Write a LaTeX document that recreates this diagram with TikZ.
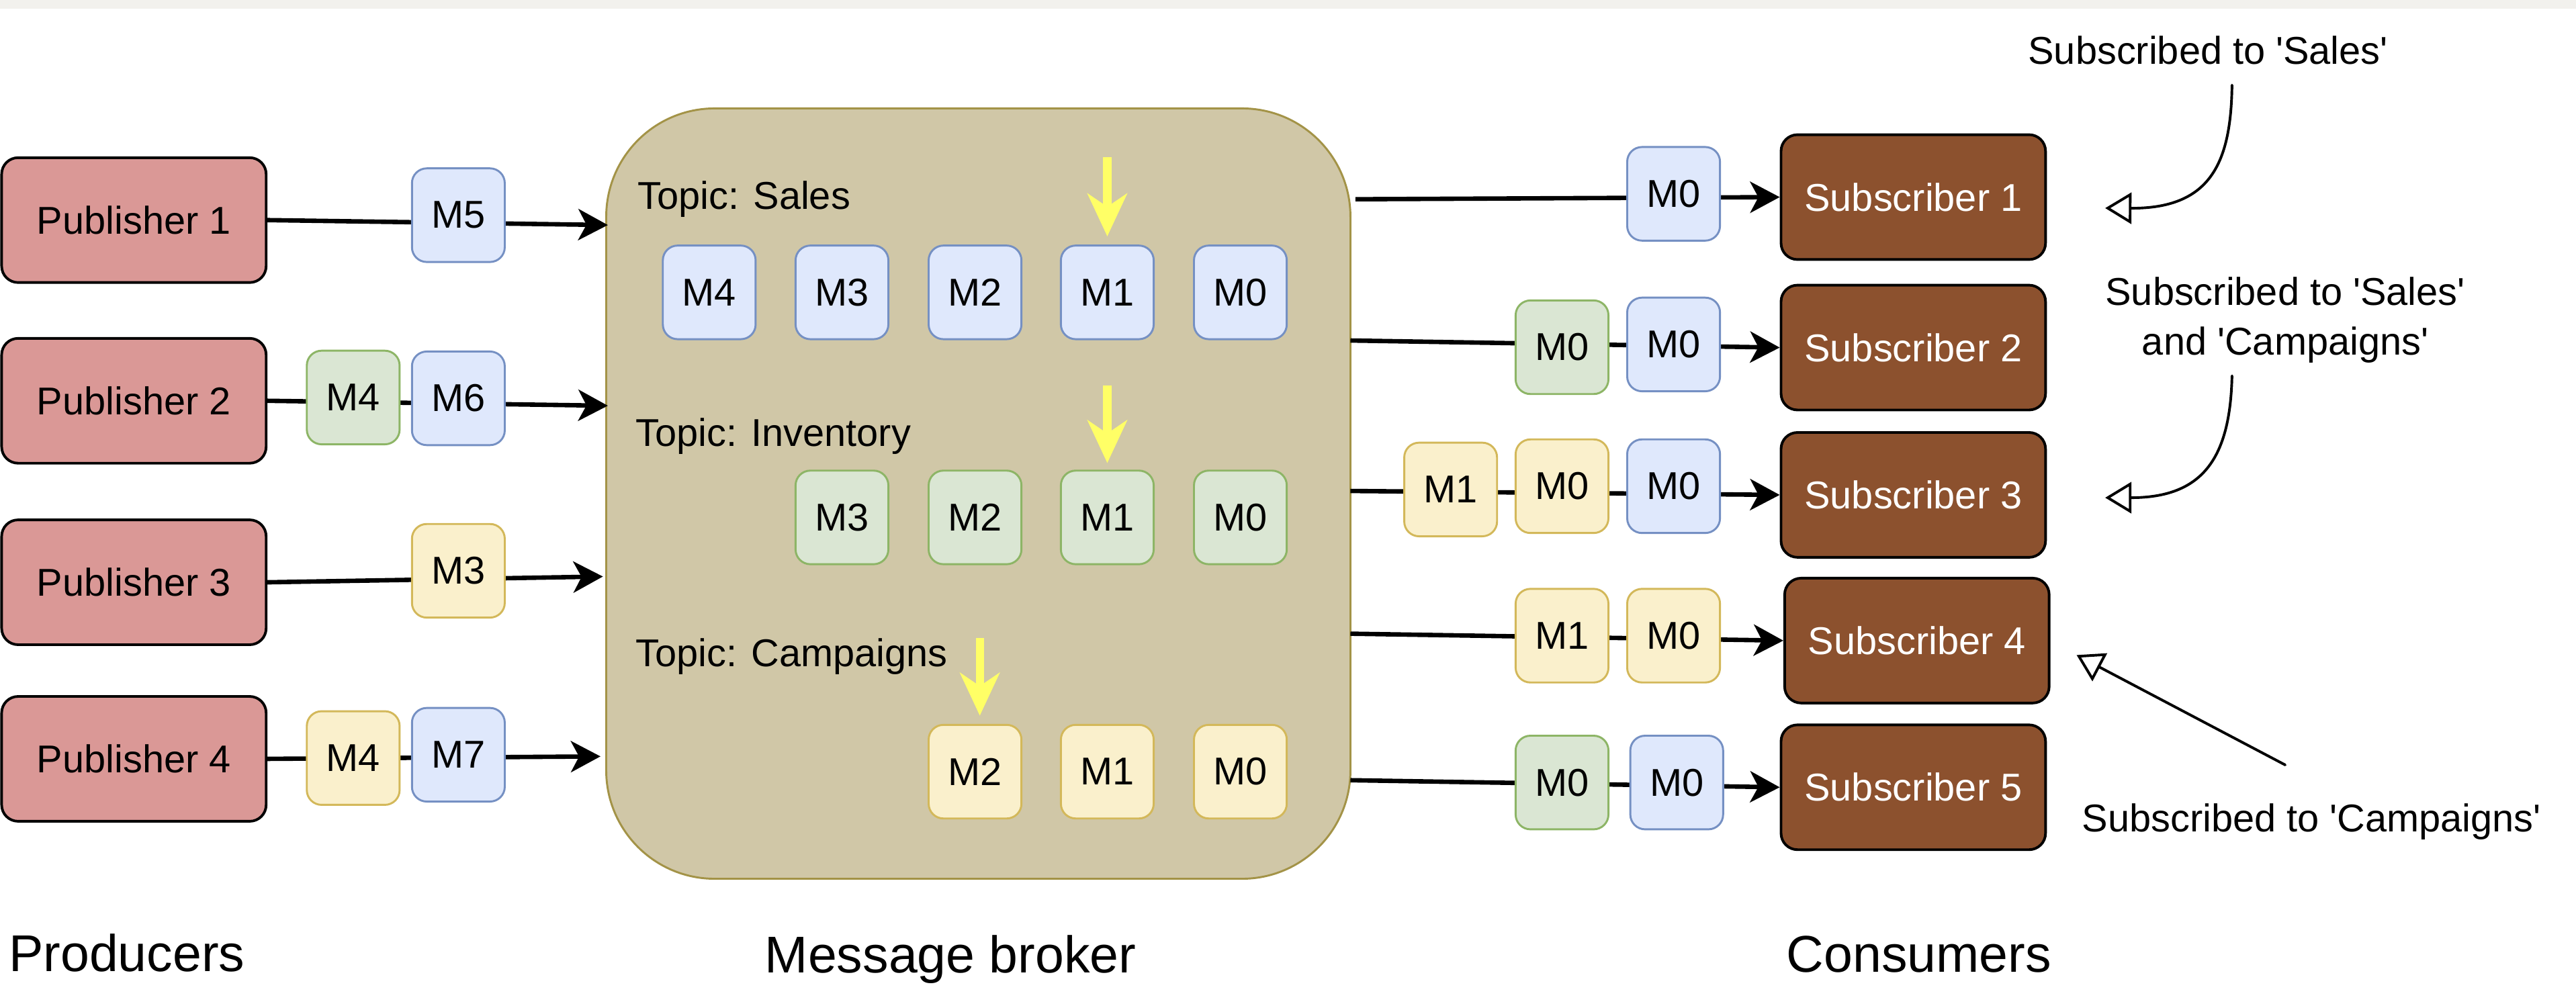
\documentclass[tikz,border=0pt]{standalone}
\usepackage{fontspec}
\newfontfamily\lsans{Liberation Sans}
\usetikzlibrary{arrows.meta}
\definecolor{pubfill}{HTML}{DA9896}
\definecolor{subfill}{HTML}{8C512E}
\definecolor{bfill}{HTML}{DFE8FC}
\definecolor{bstroke}{HTML}{7590C3}
\definecolor{gfill}{HTML}{DAE6D3}
\definecolor{gstroke}{HTML}{8DB566}
\definecolor{yfill}{HTML}{FAF0CC}
\definecolor{ystroke}{HTML}{D3B85A}
\definecolor{brokerfill}{HTML}{D0C7A7}
\definecolor{brokerstroke}{HTML}{A39347}
\definecolor{arrowyellow}{HTML}{FFFF66}
\definecolor{topband}{HTML}{F2F1ED}
\newcommand\mytxt{\lsans\fontsize{23.6pt}{28pt}\selectfont}
\newcommand\bigtxt{\lsans\fontsize{31.5pt}{36pt}\selectfont}
\begin{document}
\begin{tikzpicture}[x=1pt,y=-1pt,
  every node/.style={font=\mytxt, inner sep=0pt},
  pub/.style={draw=black, line width=1.6pt, fill=pubfill, rounded corners=10pt, minimum width=161pt, minimum height=76pt},
  subsc/.style={draw=black, line width=1.6pt, fill=subfill, text=white, rounded corners=10pt, minimum width=161pt, minimum height=76pt},
  msg/.style={line width=1.2pt, rounded corners=9pt, minimum width=56.5pt, minimum height=57pt},
  msgb/.style={msg, draw=bstroke, fill=bfill},
  msgg/.style={msg, draw=gstroke, fill=gfill},
  msgy/.style={msg, draw=ystroke, fill=yfill},
  conn/.style={line width=2.7pt, -{Stealth[length=18pt,width=19pt,inset=5pt]}},
  yarr/.style={draw=arrowyellow, line width=5pt, -{Stealth[length=26pt,width=24pt,inset=8pt]}},
  note/.style={line width=1.6pt, line cap=round, -{Triangle[open,length=16pt,width=19pt]}},
  label/.style={font=\bigtxt}
]
\useasboundingbox (0,0) rectangle (1568,611);
\fill[topband] (0,0) rectangle (1568,5.5);

% broker
\node[draw=brokerstroke, fill=brokerfill, line width=1.2pt, rounded corners=66pt,
      minimum width=453pt, minimum height=469pt] (broker) at (595.5,300.5) {};

% publishers
\node[pub] (P1) at (81.5,134) {Publisher 1};
\node[pub] (P2) at (81.5,244) {Publisher 2};
\node[pub] (P3) at (81.5,354.5) {Publisher 3};
\node[pub] (P4) at (81.5,462) {Publisher 4};

% subscribers
\node[subsc] (S1) at (1164.6,120) {Subscriber 1};
\node[subsc] (S2) at (1164.6,211.6) {Subscriber 2};
\node[subsc] (S3) at (1164.6,301.3) {Subscriber 3};
\node[subsc] (S4) at (1166.8,390) {Subscriber 4};
\node[subsc] (S5) at (1164.6,479.3) {Subscriber 5};

% connector end points
\coordinate (b1) at (370,137);
\coordinate (b2) at (370,247);
\coordinate (b3) at (367,351);
\coordinate (b4) at (365.5,460.5);
\coordinate (r1) at (825,121.3);
\coordinate (r2) at (822,207.3);
\coordinate (r3) at (822,298.9);
\coordinate (r4) at (822,385.8);
\coordinate (r5) at (822,475);

\draw[conn] (P1.east) -- (b1);
\draw[conn] (P2.east) -- (b2);
\draw[conn] (P3.east) -- (b3);
\draw[conn] (P4.east) -- (b4);
\draw[conn] (r1) -- (S1.west);
\draw[conn] (r2) -- (S2.west);
\draw[conn] (r3) -- (S3.west);
\draw[conn] (r4) -- (S4.west);
\draw[conn] (r5) -- (S5.west);

% messages in transit (producers)
\node[msgb] (pm5) at (279,131) {M5};
\node[msgg] (pm4a) at (215,242) {M4};
\node[msgb] (pm6) at (279,242.5) {M6};
\node[msgy] (pm3) at (279,347.5) {M3};
\node[msgy] (pm4b) at (215,461.5) {M4};
\node[msgb] (pm7) at (279,459.5) {M7};

% messages in transit (consumers)
\node[msgb] (c1b) at (1018.7,118) {M0};
\node[msgg] (c2g) at (950.8,211.4) {M0};
\node[msgb] (c2b) at (1018.7,209.7) {M0};
\node[msgy] (c3y1) at (883,298) {M1};
\node[msgy] (c3y0) at (950.8,296) {M0};
\node[msgb] (c3b) at (1018.7,296) {M0};
\node[msgy] (c4y1) at (950.8,387) {M1};
\node[msgy] (c4y0) at (1018.7,387) {M0};
\node[msgg] (c5g) at (950.8,476.4) {M0};
\node[msgb] (c5b) at (1020.6,476.4) {M0};

% topics
\node[anchor=base west] (tsales) at (388,127.5) {Topic: Sales};
\node[msgb] (s4) at (431.7,178) {M4};
\node[msgb] (s3) at (512.5,178) {M3};
\node[msgb] (s2) at (593.5,178) {M2};
\node[msgb] (s1) at (674,178) {M1};
\node[msgb] (s0) at (755,178) {M0};

\node[anchor=base west] (tinv) at (386.8,271.7) {Topic: Inventory};
\node[msgg] (i3) at (512.5,315) {M3};
\node[msgg] (i2) at (593.5,315) {M2};
\node[msgg] (i1) at (674,315) {M1};
\node[msgg] (i0) at (755,315) {M0};

\node[anchor=base west] (tcamp) at (386.8,405.8) {Topic: Campaigns};
\node[msgy] (k2) at (593.5,469.8) {M2};
\node[msgy] (k1) at (674,469.8) {M1};
\node[msgy] (k0) at (755,469.8) {M0};

% offset pointers
\coordinate (ys) at (674,95.6);
\coordinate (yi) at (674,234.7);
\coordinate (yk) at (596.4,388.6);
\draw[yarr, shorten >=5pt] (ys) -- (s1.north);
\draw[yarr, shorten >=4pt] (yi) -- (i1.north);
\draw[yarr, shorten >=5pt] (yk) -- (yk |- k2.north);

% annotations
\node[anchor=base] (a1) at (1344,39) {Subscribed to 'Sales'};
\node[align=center] (a2) at (1391,195) {Subscribed to 'Sales'\\[2.2pt]and 'Campaigns'};
\node[anchor=base] (a3) at (1407,506.4) {Subscribed to 'Campaigns'};

\coordinate (n1s) at (1358.6,51.8);
\coordinate (n1t) at (1281.4,126.7);
\coordinate (n2s) at (1358.6,228.8);
\coordinate (n2t) at (1281.4,303);
\coordinate (n3s) at (1391,465.7);
\coordinate (n3t) at (1264,398.8);
\draw[note] (n1s) .. controls (1358,100) and (1345,127) .. (n1t);
\draw[note] (n2s) .. controls (1357.5,280) and (1340,303) .. (n2t);
\draw[note] (n3s) -- (n3t);

% column labels
\node[label, anchor=base west] (lp) at (5.2,591.6) {Producers};
\node[label, anchor=base] (lb) at (578.6,592.2) {Message broker};
\node[label, anchor=base] (lc) at (1168,591.8) {Consumers};
\end{tikzpicture}
\end{document}
